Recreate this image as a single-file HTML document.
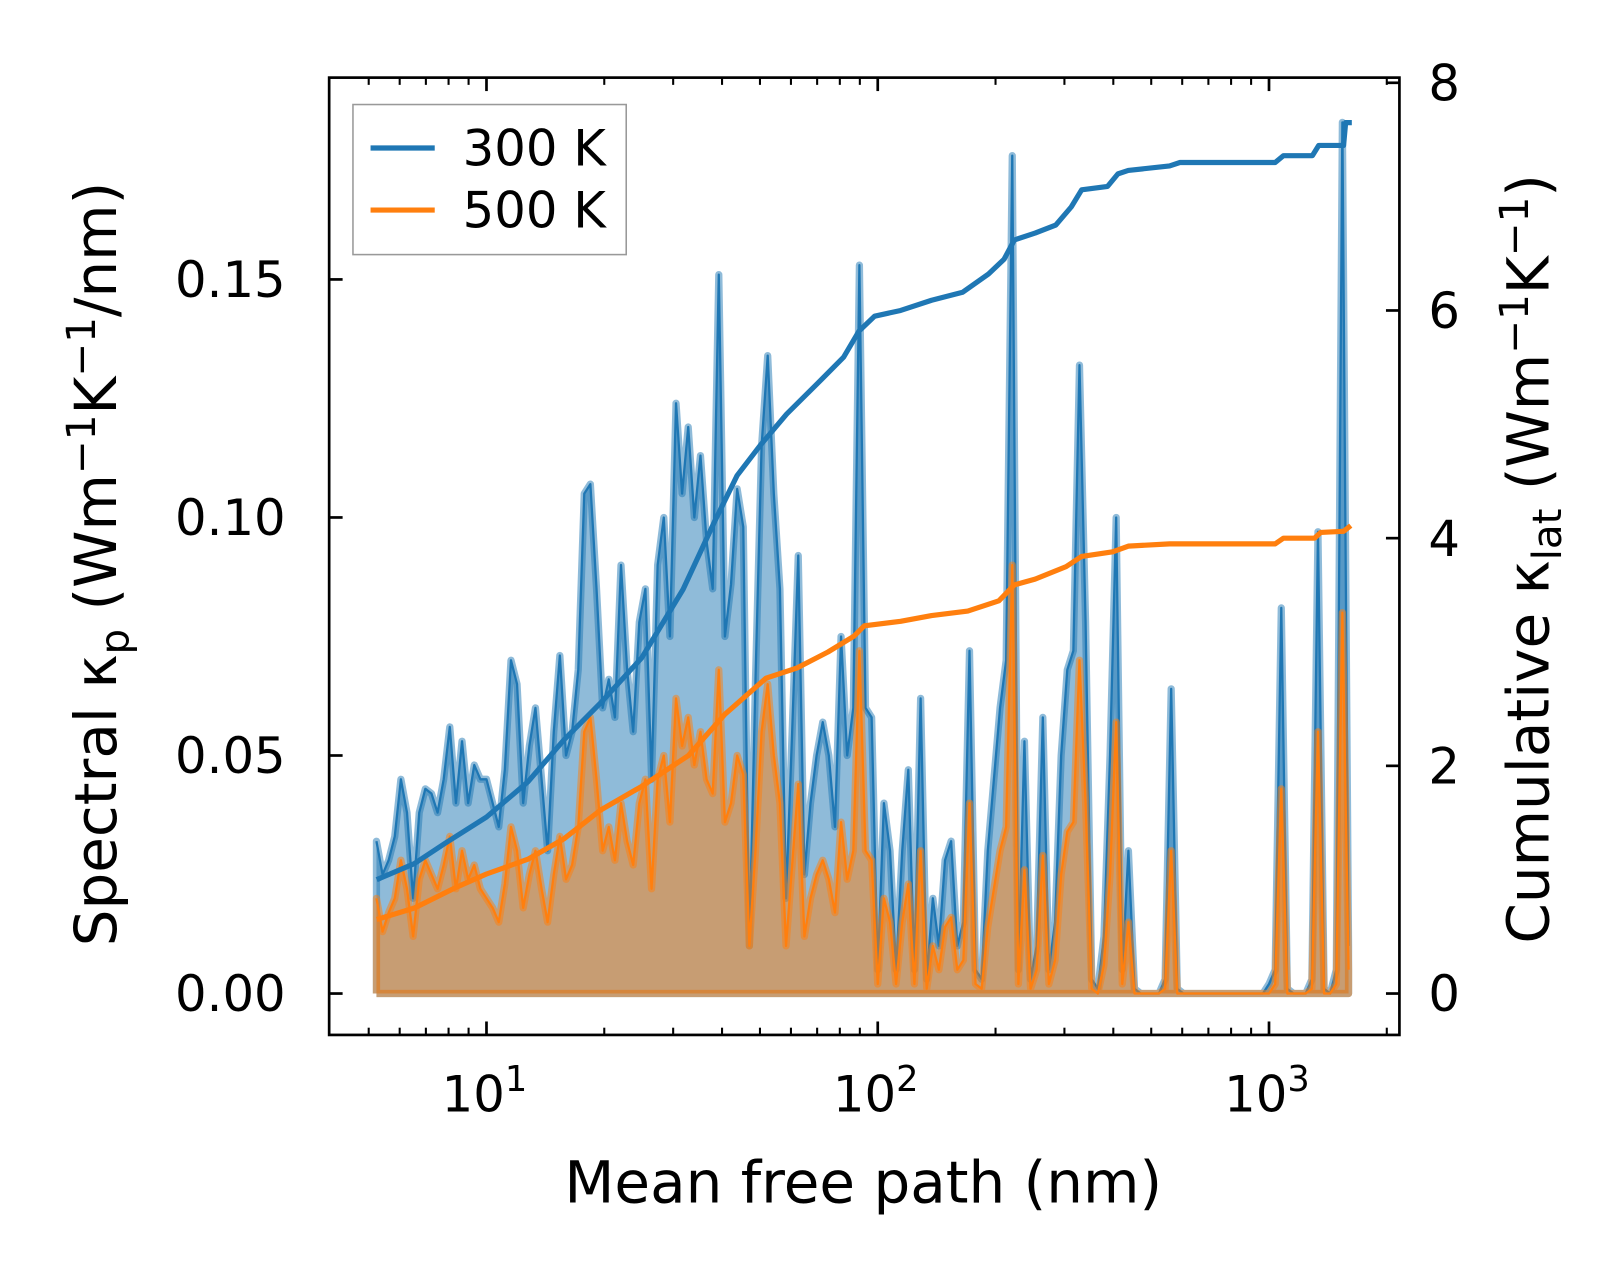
<!DOCTYPE html>
<html><head><meta charset="utf-8"><style>
html,body{margin:0;padding:0;background:#fff}
svg{display:block;font-family:"DejaVu Sans","Liberation Sans",sans-serif}
</style></head><body>
<svg id="chart" xmlns="http://www.w3.org/2000/svg" width="1623" height="1274" viewBox="0 0 1568 1231" preserveAspectRatio="none">
<rect width="1568" height="1231" fill="#fff"/>
<g id="plot"></g>
<g id="axes"></g>
<text x="834" y="1162" font-size="56" text-anchor="middle">Mean free path (nm)</text>
<text transform="translate(112,545) rotate(-90)" font-size="56" text-anchor="middle">Spectral κ<tspan font-size="39" dy="12">p</tspan><tspan dy="-12"> (Wm</tspan><tspan font-size="39" dy="-20">−1</tspan><tspan dy="20">K</tspan><tspan font-size="39" dy="-20">−1</tspan><tspan dy="20">/nm)</tspan></text>
<text transform="translate(1496,540) rotate(-90)" font-size="56" text-anchor="middle">Cumulative κ<tspan font-size="39" dy="12">lat</tspan><tspan dy="-12"> (Wm</tspan><tspan font-size="39" dy="-20">−1</tspan><tspan dy="20">K</tspan><tspan font-size="39" dy="-20">−1</tspan><tspan dy="20">)</tspan></text>
<g>
<rect x="341" y="101" width="264" height="145" fill="#fff" stroke="#999" stroke-width="1.5"/>
<line x1="358" y1="143" x2="420" y2="143" stroke="#1f77b4" stroke-width="5"/>
<text x="447" y="160" font-size="48">300 K</text>
<line x1="358" y1="203" x2="420" y2="203" stroke="#ff7f0e" stroke-width="5"/>
<text x="447" y="220" font-size="48">500 K</text>
</g>
</svg>
<script>
const mfp = [5.233,5.425,5.623,5.829,6.043,6.264,6.494,6.732,6.978,7.234,7.499,7.774,8.058,8.354,8.660,8.977,9.306,9.647,
10.00,10.37,10.75,11.14,11.55,11.97,12.41,12.87,13.34,13.83,14.33,14.86,15.40,15.97,16.55,17.16,17.78,18.43,19.11,19.81,20.54,21.29,22.07,22.88,23.71,24.58,25.48,26.42,27.38,28.39,29.43,30.51,31.62,32.78,33.98,35.23,36.52,37.86,39.24,40.68,42.17,43.72,45.32,46.98,48.70,50.48,52.33,54.25,56.23,58.29,60.43,62.64,64.94,67.32,69.78,72.34,74.99,77.74,80.58,83.54,86.60,89.77,93.06,96.47,
100.0,103.7,107.5,111.4,115.5,119.7,124.1,128.7,133.4,138.3,143.3,148.6,154.0,159.7,165.5,171.6,177.8,184.3,191.1,198.1,205.4,212.9,220.7,228.8,237.1,245.8,254.8,264.2,273.8,283.9,294.3,305.1,316.2,327.8,339.8,352.3,365.2,378.6,392.4,406.8,421.7,437.2,453.2,469.8,487.0,504.8,523.3,542.5,562.3,582.9,604.3,626.4,649.4,673.2,697.8,723.4,749.9,777.4,805.8,835.4,866.0,897.7,930.6,964.7,
1000,1037,1075,1114,1155,1197,1241,1287,1334,1383,1433,1486,1540,1597];
const spec300 = [0.032,0.025,0.028,0.033,0.045,0.038,0.020,0.038,0.043,0.042,0.038,0.045,0.056,0.040,0.053,0.040,0.048,0.045,0.045,0.040,
0.035,0.047,0.070,0.065,0.040,0.052,0.060,0.045,0.030,0.055,0.071,0.050,0.055,0.068,0.105,0.107,0.085,0.060,0.066,0.058,
0.090,0.068,0.055,0.078,0.085,0.045,0.090,0.100,0.075,0.124,0.105,0.119,0.100,0.113,0.095,0.085,0.151,0.075,0.086,0.106,
0.098,0.010,0.066,0.115,0.134,0.105,0.085,0.020,0.055,0.092,0.025,0.040,0.050,0.057,0.050,0.035,0.075,0.050,0.060,0.153,
0.060,0.058,0.005,0.040,0.030,0.005,0.030,0.047,0.005,0.062,0.003,0.020,0.010,0.028,0.032,0.010,0.015,0.072,0.005,0.003,
0.030,0.045,0.060,0.070,0.176,0.005,0.053,0.003,0.010,0.058,0.005,0.015,0.050,0.068,0.072,0.132,0.078,0.003,0.001,0.012,
0.050,0.100,0.005,0.030,0.001,0,0,0,0,0.003,0.064,0.001,0,0,0,0,0,0,0,0,
0,0,0,0,0,0,0.002,0.005,0.081,0.001,0,0,0,0.003,0.097,0.001,0,0.005,0.183,0.010];
const spec500 = [0.020,0.013,0.017,0.020,0.028,0.022,0.012,0.024,0.028,0.025,0.022,0.027,0.033,0.022,0.030,0.024,0.027,0.022,0.020,0.018,
0.015,0.023,0.035,0.030,0.018,0.025,0.030,0.022,0.015,0.025,0.033,0.024,0.027,0.035,0.055,0.058,0.045,0.030,0.035,0.028,
0.040,0.032,0.027,0.040,0.045,0.022,0.045,0.050,0.036,0.062,0.052,0.058,0.048,0.055,0.045,0.042,0.068,0.036,0.040,0.050,
0.046,0.010,0.030,0.055,0.065,0.050,0.040,0.010,0.027,0.044,0.012,0.020,0.025,0.028,0.024,0.017,0.036,0.024,0.030,0.072,
0.030,0.028,0.002,0.020,0.015,0.002,0.015,0.023,0.002,0.030,0.001,0.010,0.005,0.014,0.016,0.005,0.007,0.040,0.002,0.001,
0.014,0.022,0.030,0.035,0.090,0.002,0.026,0.001,0.005,0.029,0.002,0.007,0.025,0.034,0.036,0.070,0.040,0.001,0,0.006,
0.025,0.057,0.002,0.015,0,0,0,0,0,0.001,0.030,0,0,0,0,0,0,0,0,0,
0,0,0,0,0,0,0,0.002,0.043,0,0,0,0,0.001,0.055,0,0,0.002,0.080,0.005];
const cumMfp300 = [5.24,6.53,7.84,10,12.76,15.79,19.54,24.94,31.8,38.2,43.7,50.2,58.5,70.2,81.8,89.6,98.2,114.4,137.3,164.8,191.9,210.3,223.5,252.5,285.1,312.4,332,386.7,411,436.8,557,592,1037,1089,1291,1340,1551,1570,1628];
const cum300 = [1.0,1.14,1.32,1.55,1.86,2.23,2.55,2.95,3.55,4.14,4.55,4.82,5.09,5.36,5.59,5.82,5.95,6.0,6.09,6.16,6.32,6.45,6.62,6.68,6.75,6.91,7.06,7.09,7.2,7.23,7.27,7.3,7.3,7.36,7.36,7.45,7.45,7.65,7.65];
const cumMfp500 = [5.24,6.53,8.33,10,12.76,15.79,19.54,24.94,32.8,40.6,51.8,62.2,74.6,87.0,92.4,114.4,137.3,169.9,204,223.5,252.5,303,332,398.6,436.8,557,1037,1089,1307,1356,1551,1618];
const cum500 = [0.65,0.75,0.93,1.05,1.18,1.36,1.61,1.82,2.09,2.45,2.77,2.86,3.0,3.14,3.23,3.27,3.32,3.36,3.45,3.59,3.64,3.75,3.84,3.88,3.93,3.95,3.95,4.0,4.0,4.05,4.06,4.11];
const leftTicks = [0, 0.05, 0.10, 0.15];
const leftTickLabels = ["0.00","0.05","0.10","0.15"];
const rightTicks = [0,2,4,6,8];
const xMajor = [10,100,1000];
const xMajorExp = ["1","2","3"];

const L=318,R=1352,T=75,B=1000;
function xs(m){return 470+378*(Math.log10(m)-1);}
function yl(v){return 960-4600*v;}
function yr(c){return 960-110*c;}
const NS="http://www.w3.org/2000/svg";
function mk(tag,attrs,parent){const e=document.createElementNS(NS,tag);for(const k in attrs)e.setAttribute(k,attrs[k]);parent.appendChild(e);return e;}
const plot=document.getElementById('plot');
const axes=document.getElementById('axes');

function spectral(vals,color,name){
  let pts=vals.map((v,i)=>xs(mfp[i]).toFixed(2)+','+yl(v).toFixed(2));
  const x0=xs(mfp[0]).toFixed(2), x1=xs(mfp[mfp.length-1]).toFixed(2);
  const fill=mk('polygon',{points:x0+','+yl(0)+' '+pts.join(' ')+' '+x1+','+yl(0),fill:color,'fill-opacity':0.5,stroke:'none'},plot);
  
  
  const outline=mk('polyline',{points:x0+','+yl(0)+' '+pts.join(' ')+' '+x1+','+yl(0)+' '+x0+','+yl(0),fill:'none',stroke:color,'stroke-opacity':0.5,'stroke-width':7,'stroke-linejoin':'round'},plot);
  
  
  const line=mk('polyline',{points:pts.join(' '),fill:'none',stroke:color,'stroke-width':2.2,'stroke-linejoin':'round'},plot);
  
  
}
spectral(spec300,'#1f77b4','spectral-300k');
spectral(spec500,'#ff7f0e','spectral-500k');

function cumline(ms,cs,color,name){
  const pts=cs.map((c,i)=>xs(ms[i]).toFixed(2)+','+yr(c).toFixed(2)).join(' ');
  const l=mk('polyline',{points:pts,fill:'none',stroke:color,'stroke-width':5,'stroke-linejoin':'round'},plot);
  
  
}
cumline(cumMfp300,cum300,'#1f77b4','cumulative-300k');
cumline(cumMfp500,cum500,'#ff7f0e','cumulative-500k');

const frame=mk('rect',{x:L,y:T,width:R-L,height:B-T,fill:'none',stroke:'#000','stroke-width':2.6},axes);



leftTicks.forEach((v,i)=>{
  const y=yl(v);
  const t=mk('line',{x1:L,x2:L+13,y1:y,y2:y,stroke:'#000','stroke-width':2.6},axes);
  
  
  const tx=mk('text',{x:L-42,y:y+17,'font-size':48,'text-anchor':'end'},axes);
  tx.textContent=leftTickLabels[i];
  
  
});
rightTicks.forEach(c=>{
  const y=yr(c);
  const t=mk('line',{x1:R-13,x2:R,y1:y,y2:y,stroke:'#000','stroke-width':2.6},axes);
  
  
  const tx=mk('text',{x:R+28,y:y+17,'font-size':48},axes);
  tx.textContent=String(c);
  
  
});
xMajor.forEach((m,i)=>{
  const x=xs(m);
  [[B-13,B],[T,T+13]].forEach(([a,b])=>{
    const t=mk('line',{x1:x,x2:x,y1:a,y2:b,stroke:'#000','stroke-width':2.6},axes);
    
    
  });
  const tx=mk('text',{x:x-2,y:1074,'font-size':48,'text-anchor':'middle'},axes);
  
  
  tx.innerHTML='10<tspan font-size="34" dy="-20">'+xMajorExp[i]+'</tspan>';
});
for(let e=0;e<=3;e++){for(let d=2;d<=9;d++){
  const m=d*Math.pow(10,e); const x=xs(m);
  if(x<=L+2||x>=R-2)continue;
  [[B-7,B],[T,T+7]].forEach(([a,b])=>{
    const t=mk('line',{x1:x,x2:x,y1:a,y2:b,stroke:'#000','stroke-width':2},axes);
    
    
  });
}}
</script>
</body></html>
